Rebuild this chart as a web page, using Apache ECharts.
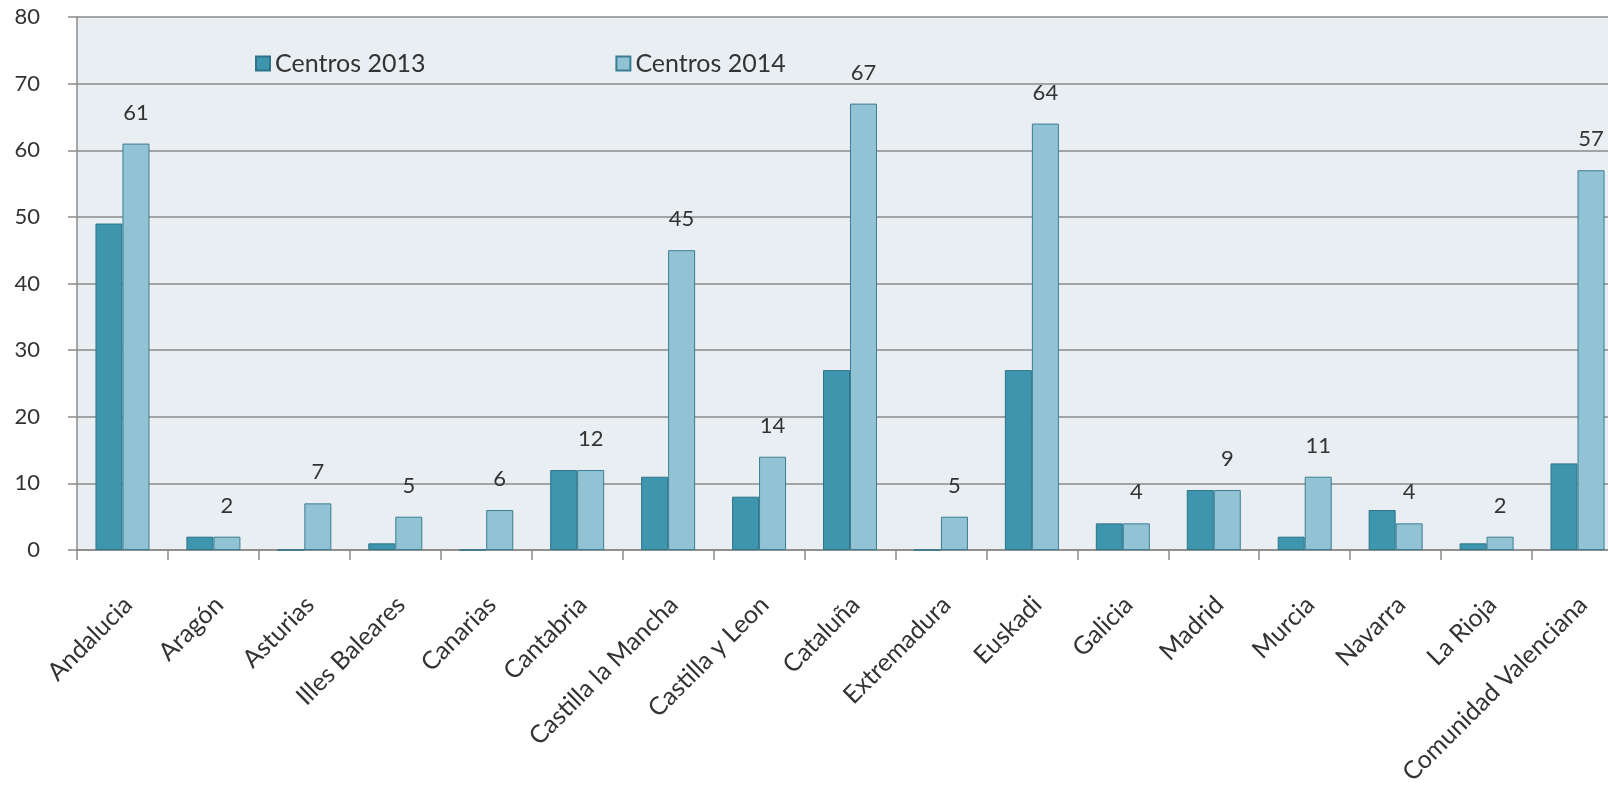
<!DOCTYPE html>
<html>
<head>
<meta charset="utf-8">
<script src="https://cdn.jsdelivr.net/npm/echarts@6/dist/echarts.min.js"></script>
<style>
html,body{margin:0;padding:0;background:#ffffff;}
#chart{width:1608px;height:785px;}
</style>
</head>
<body>
<div id="chart"></div>
<script>
const categories = ["Andalucia","Aragón","Asturias","Illes Baleares","Canarias","Cantabria","Castilla la Mancha","Castilla y Leon","Cataluña","Extremadura","Euskadi","Galicia","Madrid","Murcia","Navarra","La Rioja","Comunidad Valenciana"];
const centros2013 = [49,2,0,1,0,12,11,8,27,0,27,4,9,2,6,1,13];
const centros2014 = [61,2,7,5,6,12,45,14,67,5,64,4,9,11,4,2,57];
const seriesNames = ["Centros 2013","Centros 2014"];

const FONT = 'Lato';
const chart = echarts.init(document.getElementById('chart'));
chart.setOption({
  animation:false,
  backgroundColor:'#ffffff',
  textStyle:{fontFamily:FONT},
  legend:{
    left:250, top:46,
    itemWidth:14, itemHeight:14, itemGap:190,
    icon:'rect',
    textStyle:{fontSize:25,color:'#333333',fontFamily:FONT},
    data:seriesNames
  },
  grid:{left:77, top:17, bottom:235, right:-15, show:true, backgroundColor:'#e8eef2', borderWidth:0,
        containLabel:false, outerBoundsMode:'none'},
  xAxis:{
    type:'category',
    data:categories,
    axisLine:{lineStyle:{color:'#8a8a8a',width:1.5}},
    axisTick:{show:true,length:10,lineStyle:{color:'#8a8a8a',width:1.5}},
    axisLabel:{rotate:45, interval:0, fontSize:25, color:'#333333', margin:45, verticalAlign:'top', lineHeight:16, fontFamily:FONT}
  },
  yAxis:{
    type:'value', min:0, max:80, interval:10,
    axisLine:{show:true,lineStyle:{color:'#8a8a8a',width:1.5}},
    axisTick:{show:true,length:9,lineStyle:{color:'#8a8a8a',width:1.5}},
    splitLine:{lineStyle:{color:'#8a8a8a',width:1.5}},
    axisLabel:{fontSize:22,color:'#333333',margin:37,fontFamily:FONT}
  },
  series:[
    {
      name:seriesNames[0], type:'bar', data:centros2013,
      barWidth:27, barGap:'0%',
      itemStyle:{color:'#3d95ae',borderColor:'#2f7489',borderWidth:1}
    },
    {
      name:seriesNames[1], type:'bar', data:centros2014,
      barWidth:27, barGap:'0%',
      itemStyle:{color:'#92c3d5',borderColor:'#3b7d92',borderWidth:1},
      label:{show:true,position:'top',distance:20,fontSize:22,color:'#333333',fontFamily:FONT}
    }
  ]
});
</script>
</body>
</html>
